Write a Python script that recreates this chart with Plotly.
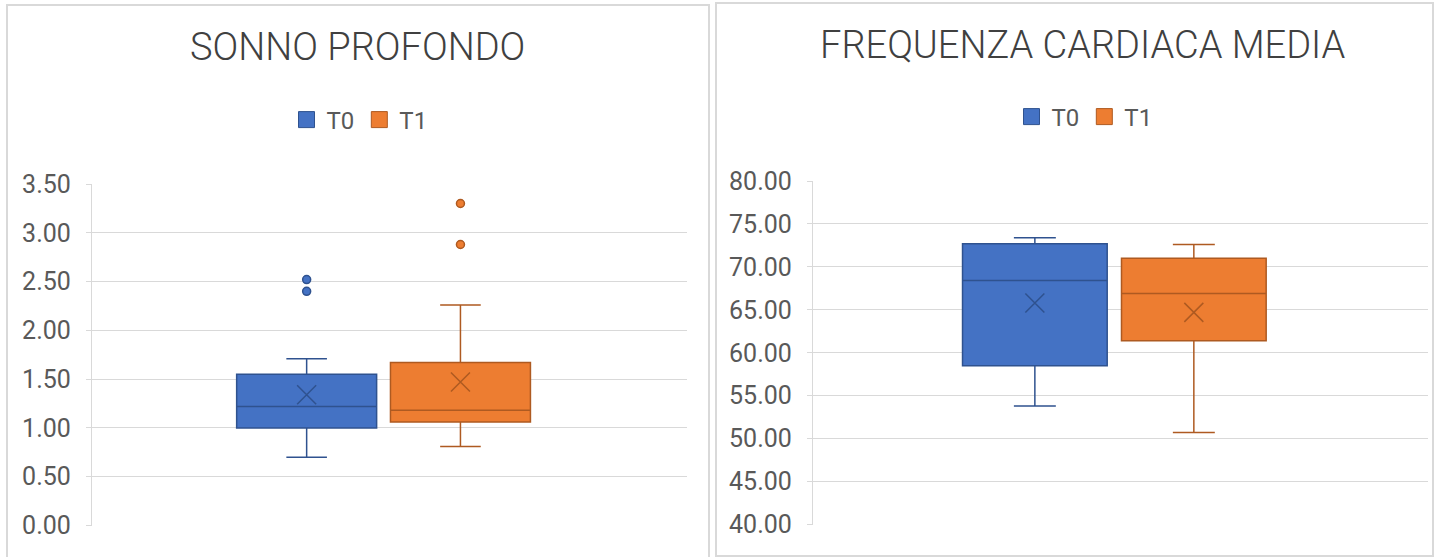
import plotly.graph_objects as go

# ---- data -------------------------------------------------------------
groups = ["T0", "T1"]
colors = {"T0": "#4472C4", "T1": "#ED7D31"}
edges = {"T0": "#2F528F", "T1": "#AE5A21"}

# Deep sleep (hours)
sonno_cat = "SONNO PROFONDO"
sonno_lower = [0.70, 0.81]
sonno_q1 = [1.00, 1.06]
sonno_median = [1.22, 1.18]
sonno_q3 = [1.55, 1.67]
sonno_upper = [1.71, 2.26]
sonno_mean = [1.34, 1.47]
sonno_outliers = [[2.40, 2.52], [2.88, 3.30]]
sonno_ticks = [0.0, 0.5, 1.0, 1.5, 2.0, 2.5, 3.0, 3.5]

# Mean heart rate (bpm)
fc_cat = "FREQUENZA CARDIACA MEDIA"
fc_lower = [53.8, 50.7]
fc_q1 = [58.5, 61.4]
fc_median = [68.4, 66.9]
fc_q3 = [72.7, 71.0]
fc_upper = [73.4, 72.6]
fc_mean = [65.8, 64.7]
fc_outliers = [[], []]
fc_ticks = [40, 45, 50, 55, 60, 65, 70, 75, 80]

FONT = "Roboto"
W, H = 1435, 557

fig = go.Figure()


def add_panel(cat, lower, q1, med, q3, upper, mean, outliers, xa, ya, legend):
    for i, g in enumerate(groups):
        fig.add_trace(go.Box(
            name=g, x=[cat], q1=[q1[i]], median=[med[i]], q3=[q3[i]],
            lowerfence=[lower[i]], upperfence=[upper[i]],
            fillcolor=colors[g], line=dict(color=edges[g], width=1.5),
            whiskerwidth=0.29, offsetgroup=g, showlegend=False,
            xaxis=xa, yaxis=ya, hoverinfo="skip",
        ))
    for i, g in enumerate(groups):
        # mean marker
        fig.add_trace(go.Scatter(
            x=[cat], y=[mean[i]], mode="markers", offsetgroup=g,
            marker=dict(symbol="x-thin-open", size=19, color=edges[g],
                        line=dict(color=edges[g], width=1.5)),
            showlegend=False, xaxis=xa, yaxis=ya, hoverinfo="skip",
        ))
        # outlier points
        if outliers[i]:
            fig.add_trace(go.Scatter(
                x=[cat] * len(outliers[i]), y=outliers[i], mode="markers",
                offsetgroup=g,
                marker=dict(symbol="circle", size=8, color=colors[g],
                            line=dict(color=edges[g], width=1.5)),
                showlegend=False, xaxis=xa, yaxis=ya, hoverinfo="skip",
            ))
    for g in groups:
        # legend swatches
        fig.add_trace(go.Scatter(
            x=[None], y=[None], mode="markers", name=g, offsetgroup=g,
            marker=dict(symbol="square", size=16, color=colors[g],
                        line=dict(color=edges[g], width=1)),
            legend=legend, xaxis=xa, yaxis=ya,
        ))


add_panel(sonno_cat, sonno_lower, sonno_q1, sonno_median, sonno_q3,
          sonno_upper, sonno_mean, sonno_outliers, "x", "y", "legend")
add_panel(fc_cat, fc_lower, fc_q1, fc_median, fc_q3,
          fc_upper, fc_mean, fc_outliers, "x2", "y2", "legend2")

grid = "#D9D9D9"
tickfont = dict(family=FONT, size=25, color="#595959")


def yax(domain, ticks, rng, anchor):
    return dict(
        domain=domain, range=rng, tickvals=ticks,
        ticktext=[f"{t:.2f}" for t in ticks], tickfont=tickfont,
        showgrid=True, gridcolor=grid, gridwidth=1.3, zeroline=False,
        showline=True, linecolor=grid, linewidth=1.3,
        ticks="outside", ticklen=5, tickcolor=grid, ticklabelstandoff=10,
        anchor=anchor, fixedrange=True, automargin=False,
    )


def xax(domain, anchor):
    return dict(
        domain=domain, range=[-0.49, 0.51], showticklabels=False,
        showgrid=False, zeroline=False, showline=False, ticks="",
        anchor=anchor, fixedrange=True, automargin=False,
    )


legend_style = dict(
    orientation="h", xanchor="center", yanchor="middle",
    font=dict(family=FONT, size=24, color="#595959"),
    bgcolor="rgba(0,0,0,0)", itemclick=False, itemdoubleclick=False,
)

fig.update_layout(
    width=W, height=H,
    margin=dict(l=0, r=0, t=0, b=0, autoexpand=False),
    paper_bgcolor="white", plot_bgcolor="white",
    boxmode="group", boxgap=0.483, boxgroupgap=0.09,
    scattermode="group", scattergap=0.483,
    xaxis=xax([92 / W, 687 / W], "y"),
    yaxis=yax([1 - 525.5 / H, 1 - 184 / H], sonno_ticks, [0, 3.5], "x"),
    xaxis2=xax([813 / W, 1428 / W], "y2"),
    yaxis2=yax([1 - 524.5 / H, 1 - 181 / H], fc_ticks, [40, 80], "x2"),
    legend=dict(x=359.5 / W, y=1 - 120 / H, **legend_style),
    legend2=dict(x=1084.5 / W, y=1 - 117 / H, **legend_style),
    showlegend=True,
    annotations=[
        dict(text="SONNO PROFONDO", x=357 / W, y=1 - 47 / H,
             xref="paper", yref="paper", showarrow=False,
             xanchor="center", yanchor="middle",
             font=dict(family=FONT, size=38, color="#404040", weight=300)),
        dict(text="FREQUENZA CARDIACA MEDIA", x=1082 / W, y=1 - 45 / H,
             xref="paper", yref="paper", showarrow=False,
             xanchor="center", yanchor="middle",
             font=dict(family=FONT, size=38, color="#404040", weight=300)),
    ],
    shapes=[
        dict(type="rect", xref="paper", yref="paper",
             x0=7 / W, x1=709 / W, y0=-0.05, y1=1 - 5 / H,
             line=dict(color="#D9D9D9", width=2), layer="below"),
        dict(type="rect", xref="paper", yref="paper",
             x0=716 / W, x1=1433 / W, y0=1 - 556 / H, y1=1 - 3 / H,
             line=dict(color="#D9D9D9", width=2), layer="below"),
    ],
)

fig.write_html("out.html", config={"displayModeBar": False})
